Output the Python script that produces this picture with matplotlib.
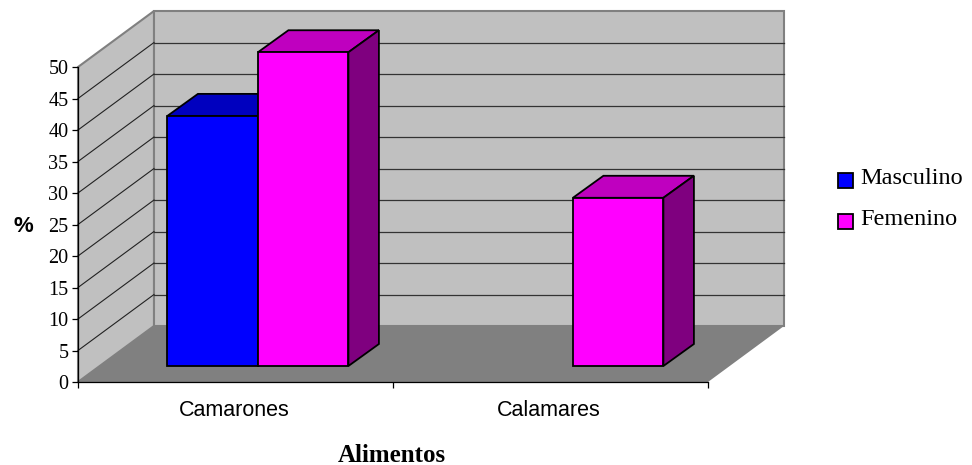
import matplotlib
matplotlib.use("Agg")
import matplotlib.pyplot as plt
from matplotlib.patches import Polygon, Rectangle
from matplotlib.transforms import Affine2D

categories = ["Camarones", "Calamares"]
masculino = [39.7, 0]
femenino = [49.8, 26.7]
y_ticks = list(range(0, 55, 5))

WIDTH, HEIGHT = 972, 465
BAR_WIDTH = 0.2873
FLOOR_DEPTH = (76, 56)
BAR_SHIFT = (22, 16)
BAR_DEPTH = (30.5, 22)

fig = plt.figure(figsize=(WIDTH / 100, HEIGHT / 100), dpi=100)
ax = fig.add_axes([78 / WIDTH, 1 - 382 / HEIGHT, 630 / WIDTH, 315 / HEIGHT])
ax.set_xlim(0, 2)
ax.set_ylim(0, 50)
ax.patch.set_visible(False)
for side in ["top", "right"]:
    ax.spines[side].set_visible(False)
for side in ["left", "bottom"]:
    ax.spines[side].set_linewidth(0.9)
    ax.spines[side].set_zorder(6)


def shifted(dx, dy):
    # data coordinates pushed back in depth by a pixel offset
    return ax.transData + Affine2D().translate(dx, dy)


def draw_box(x, value, color, top_color, side_color, zorder):
    sx, sy = BAR_SHIFT
    front = shifted(sx, sy)
    back = shifted(sx + BAR_DEPTH[0], sy + BAR_DEPTH[1])
    style = dict(edgecolor="black", linewidth=1.3, joinstyle="miter", clip_on=False, zorder=zorder)
    x2 = x + BAR_WIDTH

    # the faces are stitched in display space so each one can use two depths
    def face(points):
        verts = [t.transform(p) for t, p in points]
        return Polygon(verts, transform=None, **style)

    ax.add_patch(face([(front, (x, value)), (front, (x2, value)), (back, (x2, value)), (back, (x, value))]))
    ax.patches[-1].set_facecolor(top_color)
    ax.add_patch(face([(front, (x2, 0)), (back, (x2, 0)), (back, (x2, value)), (front, (x2, value))]))
    ax.patches[-1].set_facecolor(side_color)
    ax.add_patch(Rectangle((x, 0), BAR_WIDTH, value, transform=front, facecolor=color, **style))


# walls and floor
back_wall = shifted(*FLOOR_DEPTH)
wall_points = [ax.transData.transform(p) for p in [(0, 0), (0, 50)]]
wall_points += [back_wall.transform(p) for p in [(0, 50), (0, 0)]]
ax.add_patch(Polygon(wall_points, transform=None, facecolor="#c0c0c0", edgecolor="#808080",
                     linewidth=1.5, clip_on=False, zorder=1))
ax.add_patch(Rectangle((0, 0), 2, 50, transform=back_wall, facecolor="#c0c0c0", edgecolor="#808080",
                       linewidth=1.5, clip_on=False, zorder=1))
floor_points = [ax.transData.transform(p) for p in [(0, 0), (2, 0)]]
floor_points += [back_wall.transform(p) for p in [(2, 0), (0, 0)]]
ax.add_patch(Polygon(floor_points, transform=None, facecolor="#808080", edgecolor="none",
                     clip_on=False, zorder=2))

# gridlines run along the left wall, then across the back wall
for tick in y_ticks[1:-1]:
    ax.plot([0, 2], [tick, tick], transform=back_wall, color="#333333", linewidth=0.9,
            clip_on=False, zorder=2)
    start = ax.transData.transform((0, tick))
    end = back_wall.transform((0, tick))
    ax.plot([start[0], end[0]], [start[1], end[1]], transform=None, color="#222222",
            linewidth=0.8, clip_on=False, zorder=2)

for i in range(len(categories)):
    left = i + 0.214
    if masculino[i] > 0:
        draw_box(left, masculino[i], "#0000ff", "#0000bf", "#00007f", 3 + i)
    if femenino[i] > 0:
        draw_box(left + BAR_WIDTH, femenino[i], "#ff00ff", "#bf00bf", "#7f007f", 3 + i)

ax.set_yticks(y_ticks)
ax.set_yticklabels(y_ticks, family="Liberation Serif", fontsize=14.5)
ax.set_xticks([0, 1, 2])
ax.set_xticklabels([])
ax.tick_params(axis="y", length=4, width=0.9, pad=3)
ax.tick_params(axis="x", length=4.3, width=0.9)

for i, name in enumerate(categories):
    fig.text((234 + i * 315) / WIDTH, 1 - 410 / HEIGHT, name, family="Liberation Sans",
             fontsize=15.5, ha="center", va="center")

fig.text(23 / WIDTH, 1 - 226 / HEIGHT, "%", family="Liberation Sans", fontweight="bold",
         fontsize=16, ha="center", va="center")
fig.text(391.5 / WIDTH, 1 - 455 / HEIGHT, "Alimentos", family="Liberation Serif", fontweight="bold",
         fontsize=18, ha="center", va="center")

# legend
for name, color, y in [("Masculino", "#0000ff", 180.5), ("Femenino", "#ff00ff", 221.5)]:
    fig.patches.append(Rectangle((837.5 / WIDTH, 1 - (y + 7.5) / HEIGHT), 15 / WIDTH, 15 / HEIGHT,
                                 transform=fig.transFigure, facecolor=color, edgecolor="black",
                                 linewidth=1.3))
    fig.text(860 / WIDTH, 1 - (y - 2) / HEIGHT, name, family="Liberation Serif", fontsize=17.5,
             ha="left", va="center")

fig.savefig("out.png", dpi=100)
